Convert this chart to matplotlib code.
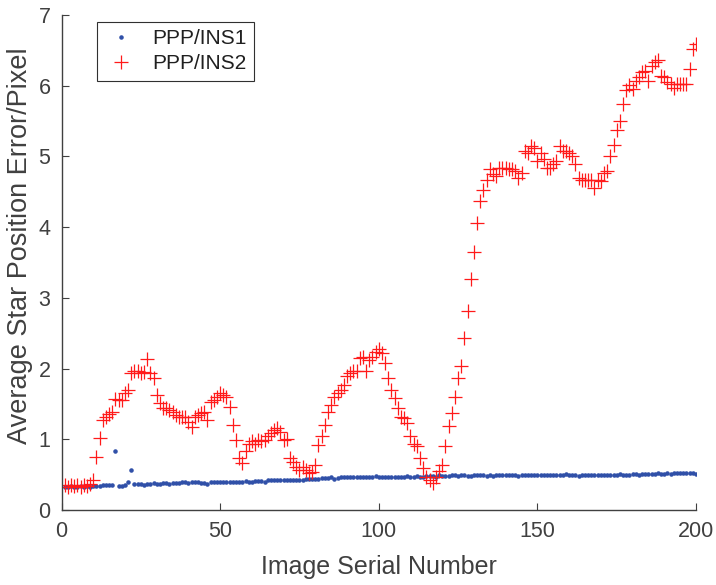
import matplotlib
matplotlib.use("Agg")
import matplotlib.pyplot as plt

plt.rcParams['font.family'] = ['Liberation Sans', 'DejaVu Sans']

image_index = list(range(1, 201))

ins1_error = [
    0.33, 0.33, 0.34, 0.33, 0.33, 0.34, 0.33, 0.34, 0.33, 0.34,
    0.34, 0.34, 0.35, 0.35, 0.35, 0.36, 0.84, 0.34, 0.34, 0.35,
    0.39, 0.57, 0.37, 0.37, 0.37, 0.36, 0.37, 0.37, 0.38, 0.37,
    0.37, 0.38, 0.38, 0.37, 0.38, 0.38, 0.38, 0.39, 0.39, 0.38,
    0.39, 0.39, 0.39, 0.38, 0.38, 0.37, 0.39, 0.39, 0.39, 0.39,
    0.39, 0.39, 0.40, 0.40, 0.39, 0.40, 0.40, 0.41, 0.40, 0.40,
    0.41, 0.41, 0.41, 0.40, 0.42, 0.42, 0.42, 0.42, 0.42, 0.42,
    0.42, 0.42, 0.43, 0.43, 0.43, 0.43, 0.44, 0.44, 0.44, 0.44,
    0.44, 0.45, 0.45, 0.45, 0.46, 0.44, 0.45, 0.46, 0.46, 0.46,
    0.46, 0.46, 0.46, 0.47, 0.46, 0.46, 0.46, 0.47, 0.48, 0.46,
    0.46, 0.47, 0.47, 0.47, 0.46, 0.47, 0.47, 0.47, 0.48, 0.47,
    0.47, 0.48, 0.47, 0.47, 0.48, 0.48, 0.48, 0.47, 0.49, 0.48,
    0.48, 0.48, 0.49, 0.49, 0.48, 0.49, 0.49, 0.48, 0.48, 0.49,
    0.49, 0.49, 0.49, 0.48, 0.49, 0.48, 0.49, 0.49, 0.49, 0.50,
    0.49, 0.49, 0.49, 0.48, 0.49, 0.49, 0.49, 0.49, 0.50, 0.49,
    0.49, 0.49, 0.49, 0.50, 0.49, 0.49, 0.50, 0.50, 0.51, 0.50,
    0.49, 0.49, 0.48, 0.49, 0.50, 0.50, 0.49, 0.49, 0.49, 0.49,
    0.50, 0.50, 0.49, 0.50, 0.50, 0.51, 0.50, 0.50, 0.49, 0.51,
    0.51, 0.50, 0.51, 0.51, 0.51, 0.51, 0.51, 0.52, 0.51, 0.51,
    0.52, 0.51, 0.52, 0.53, 0.52, 0.53, 0.53, 0.52, 0.53, 0.51,
]

ins2_error = [
    0.35, 0.33, 0.36, 0.34, 0.35, 0.33, 0.36, 0.34, 0.37, 0.42,
    0.75, 1.02, 1.27, 1.32, 1.36, 1.39, 1.57, 1.56, 1.55, 1.66,
    1.70, 1.94, 1.96, 1.96, 1.94, 1.95, 2.13, 1.94, 1.87, 1.63,
    1.51, 1.44, 1.44, 1.42, 1.38, 1.35, 1.32, 1.32, 1.31, 1.25,
    1.18, 1.32, 1.35, 1.37, 1.39, 1.27, 1.53, 1.56, 1.60, 1.65,
    1.62, 1.60, 1.46, 1.20, 0.99, 0.73, 0.66, 0.83, 0.94, 0.97,
    0.94, 0.99, 0.97, 0.99, 1.04, 1.09, 1.13, 1.16, 1.11, 0.99,
    1.00, 0.73, 0.68, 0.61, 0.57, 0.61, 0.57, 0.52, 0.54, 0.64,
    0.92, 1.04, 1.20, 1.39, 1.49, 1.60, 1.65, 1.70, 1.77, 1.89,
    1.94, 1.96, 1.96, 2.15, 2.17, 1.96, 2.12, 2.16, 2.24, 2.27,
    2.22, 2.08, 1.87, 1.70, 1.58, 1.44, 1.32, 1.30, 1.23, 1.04,
    0.94, 0.90, 0.73, 0.59, 0.47, 0.42, 0.38, 0.47, 0.55, 0.64,
    0.90, 1.19, 1.37, 1.60, 1.87, 2.03, 2.43, 2.81, 3.26, 3.65,
    4.06, 4.37, 4.53, 4.67, 4.82, 4.75, 4.72, 4.84, 4.84, 4.84,
    4.82, 4.82, 4.79, 4.70, 4.77, 5.08, 5.05, 5.15, 5.12, 4.93,
    5.05, 4.97, 4.84, 4.84, 4.89, 4.93, 5.15, 5.08, 5.08, 5.05,
    5.01, 4.89, 4.70, 4.67, 4.67, 4.67, 4.67, 4.56, 4.67, 4.65,
    4.77, 4.79, 5.00, 5.16, 5.38, 5.50, 5.74, 5.94, 6.01, 5.95,
    6.07, 6.12, 6.19, 6.21, 6.07, 6.28, 6.33, 6.37, 6.14, 6.12,
    6.05, 6.02, 5.97, 6.02, 6.02, 6.02, 6.02, 6.23, 6.52, 6.59,
]

x_ticks = [0, 50, 100, 150, 200]
y_ticks = [0, 1, 2, 3, 4, 5, 6, 7]

fig = plt.figure(figsize=(7.16, 5.85), dpi=100)
ax = fig.add_axes([61.5 / 716, 75 / 585, (696 - 61.5) / 716, (510 - 15) / 585])

ax.plot(image_index, ins1_error, linestyle='none', marker='.', markersize=4.5,
        color='#3050a8', label='PPP/INS1')
ax.plot(image_index, ins2_error, linestyle='none', marker='+', markersize=10.5,
        markeredgewidth=0.9, color='#ff1a1a', label='PPP/INS2')

ax.set_xlim(0, 200)
ax.set_ylim(0, 7)
ax.set_xticks(x_ticks)
ax.set_yticks(y_ticks)

gray = '#404040'
for side in ['top', 'right']:
    ax.spines[side].set_visible(False)
for side in ['left', 'bottom']:
    ax.spines[side].set_color(gray)
    ax.spines[side].set_linewidth(1.0)
ax.tick_params(direction='in', length=5, width=0.8, colors=gray,
               labelsize=15.5, labelcolor=gray, pad=8)

ax.set_xlabel('Image Serial Number', fontsize=18, color=gray, labelpad=9)
ax.set_ylabel('Average Star Position Error/Pixel', fontsize=19.5, color=gray)
ax.yaxis.set_label_coords(-0.045, 0.533)

leg = ax.legend(loc='upper left', bbox_to_anchor=(0.056, 0.986), borderaxespad=0,
                fontsize=15, fancybox=False, framealpha=1, edgecolor='#303030',
                handlelength=1.6, handletextpad=0.7, borderpad=0.35,
                labelspacing=0.3)
leg.get_frame().set_linewidth(0.8)
for t in leg.get_texts():
    t.set_color('#202020')

fig.savefig('out.png', dpi=100)
